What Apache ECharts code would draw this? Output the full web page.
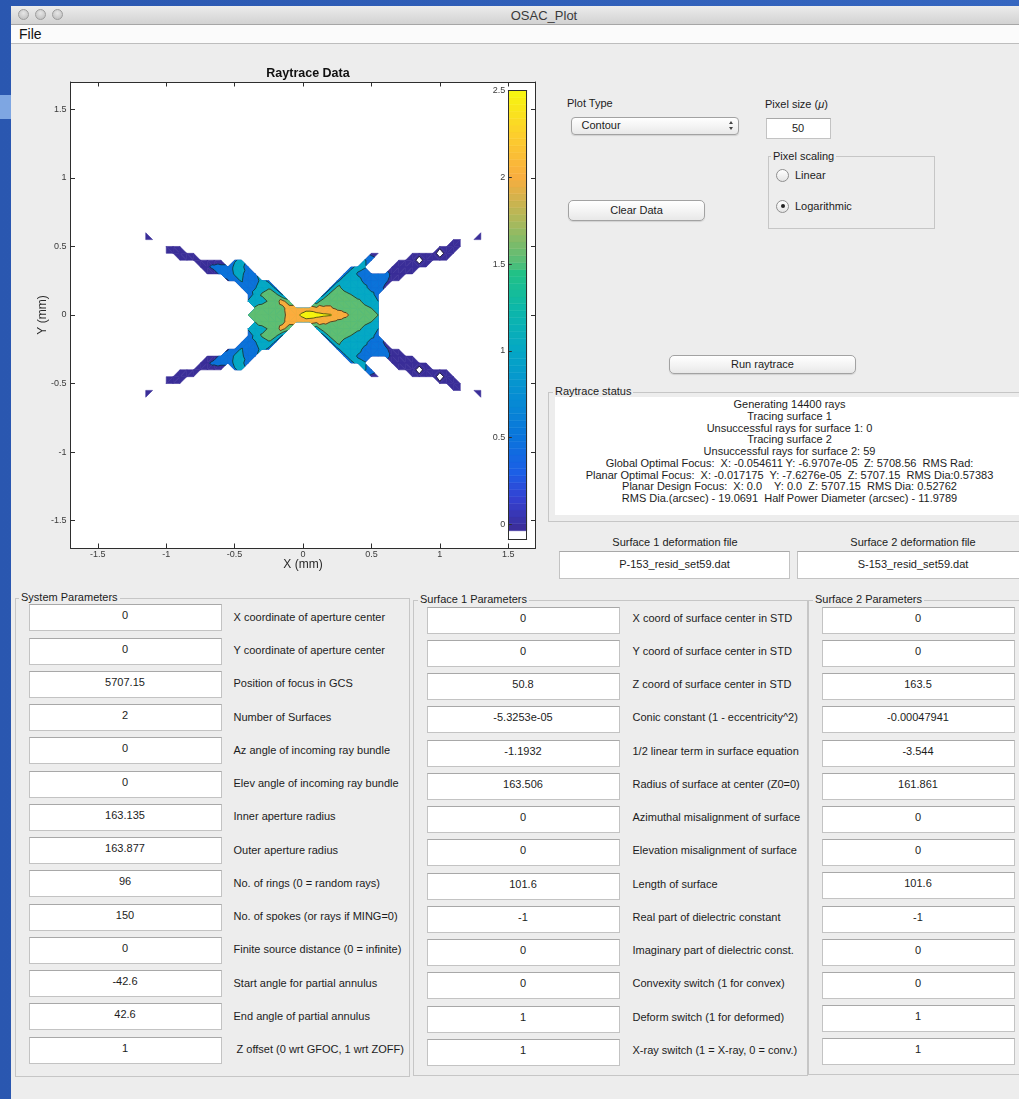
<!DOCTYPE html>
<html>
<head>
<meta charset="utf-8">
<title>OSAC_Plot</title>
<script src="https://cdn.jsdelivr.net/npm/echarts@6.0.0/dist/echarts.min.js"></script>
<style>
  html, body { margin: 0; padding: 0; }
  body {
    width: 1019px; height: 1099px; overflow: hidden; position: relative;
    background: linear-gradient(90deg, #2a57b0, #3566c0);
    font-family: "Liberation Sans", Arial, Helvetica, sans-serif; font-size: 11px; color: #1c1c1c;
  }
  .abs { position: absolute; }
  #win { position: absolute; left: 11px; top: 6px; width: 1020px; height: 1100px; background: #ededed; }
  #titlebar { position: absolute; left: 11px; top: 6px; width: 1020px; height: 18px;
    background: linear-gradient(#ececec, #d2d2d2); border-bottom: 1px solid #a6a6a6; }
  #titletext { position: absolute; left: 444px; width: 200px; top: 8px; text-align: center; font-size: 13px; line-height: 15px; color: #3a3a3a; }
  .light { position: absolute; top: 9px; width: 11px; height: 11px; border-radius: 50%;
    background: radial-gradient(circle at 50% 35%, #e6e6e6, #b9b9b9); border: 1px solid #9d9d9d; box-sizing: border-box; }
  #menubar { position: absolute; left: 11px; top: 25px; width: 1020px; height: 18px; background: #fbfbfb; border-bottom: 1px solid #bdbdbd; }
  #menufile { position: absolute; left: 19px; top: 26px; font-size: 14px; line-height: 17px; color: #111; }
  .lbl { position: absolute; font-size: 11px; line-height: 13px; white-space: pre; color: #1c1c1c; }
  .edit { position: absolute; box-sizing: border-box; background: #fff; border: 1px solid #c3c3c3; border-top-color: #a8a8a8;
    display: flex; align-items: center; justify-content: center; font-size: 11px; line-height: 13px; padding-bottom: 4px; white-space: pre; }
  .btn { position: absolute; box-sizing: border-box; border: 1px solid #a2a2a2; border-radius: 5px;
    background: linear-gradient(#ffffff, #f3f3f3 55%, #e8e8e8); box-shadow: 0 1px 1px rgba(0,0,0,0.12);
    display: flex; align-items: center; justify-content: center; font-size: 11px; line-height: 13px; }
  .panel { position: absolute; box-sizing: border-box; border: 1px solid #c6c6c6; }
  .ptitle { position: absolute; background: #ededed; padding: 0 2px; font-size: 11px; line-height: 13px; white-space: pre; }
  .radio { position: absolute; width: 13px; height: 13px; box-sizing: border-box; border-radius: 50%;
    border: 1px solid #8f8f8f; background: linear-gradient(#ffffff, #e4e4e4); }
  .dot { position: absolute; left: 3.5px; top: 3.5px; width: 4px; height: 4px; border-radius: 50%; background: #222; }
  #status { position: absolute; left: 555px; top: 397px; width: 469px; height: 118px; background: #fff; }
  #status div { text-align: center; font-size: 11px; line-height: 11.7px; white-space: pre; }
  #plot { position: absolute; left: 0; top: 44px; width: 548px; height: 546px; }
</style>
</head>
<body>
<div id="win"></div>
<div class="abs" style="left:0;top:95px;width:11px;height:24px;background:#7ea6e2;"></div>
<div id="titlebar"></div>
<div class="light" style="left:18px;"></div>
<div class="light" style="left:35px;"></div>
<div class="light" style="left:52px;"></div>
<div id="titletext">OSAC_Plot</div>
<div id="menubar"></div>
<div id="menufile">File</div>
<div id="plot"></div>
<div id="gui"></div>

<script>
// ---------------------------------------------------------------
// Focal-plane ray density: log10(ray count) per 50 micron bin.
// null marks bins that no ray reached.
// ---------------------------------------------------------------
const _ = null;

const gridX = [-1.15,-1.1,-1.05,-1.0,-0.95,-0.9,-0.85,-0.8,-0.75,-0.7,
               -0.65,-0.6,-0.55,-0.5,-0.45,-0.4,-0.35,-0.3,-0.25,-0.2,
               -0.15,-0.1,-0.05,0,0.05,0.1,0.15,0.2,0.25,0.3,
               0.35,0.4,0.45,0.5,0.55,0.6,0.65,0.7,0.75,0.8,
               0.85,0.9,0.95,1.0,1.05,1.1,1.15,1.2,1.25,1.3];

const gridY = [0.6,0.55,0.5,0.45,0.4,0.35,0.3,0.25,0.2,0.15,0.1,0.05,0,
               -0.05,-0.1,-0.15,-0.2,-0.25,-0.3,-0.35,-0.4,-0.45,-0.5,-0.55,-0.6];

// columns in blocks of ten: x = -1.15..-0.7 | -0.65..-0.2 | -0.15..0.3 | 0.35..0.8 | 0.85..1.3
const row_p060 = [0.1,_,_,_,_,_,_,_,_,_,  _,_,_,_,_,_,_,_,_,_,  _,_,_,_,_,_,_,_,_,_,  _,_,_,_,_,_,_,_,_,_,  _,_,_,_,_,_,_,_,_,0.1];
const row_p055 = [0.15,0.1,_,_,_,_,_,_,_,_,  _,_,_,_,_,_,_,_,_,_,  _,_,_,_,_,_,_,_,_,_,  _,_,_,_,_,_,_,_,_,_,  _,_,_,_,_,0.15,0.1,_,0.1,0.2];
const row_p050 = [_,_,_,0.15,0.25,0.1,_,_,_,_,  _,_,_,_,_,_,_,_,_,_,  _,_,_,_,_,_,_,_,_,_,  _,_,_,_,_,_,_,_,_,_,  _,_,_,0.2,0.35,0.3,0.15,_,_,_];
const row_p045 = [_,_,_,0.1,0.3,0.35,0.3,0.2,_,_,  _,_,_,_,_,_,_,_,_,_,  _,_,_,_,_,_,_,_,_,_,  _,_,_,0.35,0.15,_,_,_,_,0.1,  0.3,0.35,0.4,-0.4,0.3,0.15,_,_,_,_];
const row_p040 = [_,_,_,_,_,0.1,0.3,0.35,0.35,0.3,  0.25,0.1,_,0.95,1.1,_,_,_,_,_,  _,_,_,_,_,_,_,_,_,_,  _,_,1.05,0.8,_,_,_,0.1,0.3,0.4,  -0.4,0.4,0.35,0.3,0.1,_,_,_,_,_];
const row_p035 = [_,_,_,_,_,_,_,_,0.2,0.45,  0.6,0.7,0.7,1.1,1.05,0.9,_,_,_,_,  _,_,_,_,_,_,_,_,_,_,  0.85,1.15,1.05,_,_,_,0.35,0.4,0.45,0.4,  0.35,0.2,_,_,_,_,_,_,_,_];
const row_p030 = [_,_,_,_,_,_,_,_,_,0.1,  0.35,0.6,0.75,1.05,1.1,0.75,0.9,_,_,_,  _,_,_,_,_,_,_,_,_,0.85,  1.25,0.95,0.8,0.75,0.7,0.6,0.45,0.4,0.35,0.2,  _,_,_,_,_,_,_,_,_,_];
const row_p025 = [_,_,_,_,_,_,_,_,_,_,  _,_,0.45,0.8,1.05,0.7,0.75,1.2,0.85,_,  _,_,_,_,_,_,_,_,0.85,1.3,  1.3,1.15,0.9,0.8,0.85,0.6,0.35,0.15,_,_,  _,_,_,_,_,_,_,_,_,_];
const row_p020 = [_,_,_,_,_,_,_,_,_,_,  _,_,_,_,0.6,0.7,0.95,1.3,1.45,0.85,  _,_,_,_,_,_,_,0.85,1.6,1.4,  1.3,1.25,1.1,0.85,0.8,0.4,_,_,_,_,  _,_,_,_,_,_,_,_,_,_];
const row_p015 = [_,_,_,_,_,_,_,_,_,_,  _,_,_,_,_,0.6,1.2,1.55,1.7,1.65,  0.95,_,_,_,_,_,0.9,1.7,1.75,1.6,  1.5,1.3,1.25,1.1,0.85,_,_,_,_,_,  _,_,_,_,_,_,_,_,_,_];
const row_p010 = [_,_,_,_,_,_,_,_,_,_,  _,_,_,_,_,1.1,1.3,1.35,1.55,1.85,  2.15,1.7,_,_,_,1.2,1.85,1.9,1.8,1.75,  1.7,1.6,1.4,1.25,1.0,_,_,_,_,_,  _,_,_,_,_,_,_,_,_,_];
const row_p005 = [_,_,_,_,_,_,_,_,_,_,  _,_,_,_,_,_,1.55,1.7,1.75,1.8,  1.9,2.2,2.2,2.3,2.3,2.1,2.05,2.05,1.9,1.85,  1.8,1.75,1.6,1.5,1.2,_,_,_,_,_,  _,_,_,_,_,_,_,_,_,_];
const row_000  = [_,_,_,_,_,_,_,_,_,_,  _,_,_,_,_,1.5,1.7,1.75,1.8,1.8,  1.85,2.2,2.4,2.6,2.75,2.7,2.6,2.55,2.25,2.1,  1.95,1.8,1.75,1.65,1.5,_,_,_,_,_,  _,_,_,_,_,_,_,_,_,_];
const row_m005 = [_,_,_,_,_,_,_,_,_,_,  _,_,_,_,_,_,1.5,1.7,1.75,1.8,  1.9,2.2,2.2,2.3,2.25,2.1,2.05,2.0,1.9,1.85,  1.8,1.75,1.6,1.5,1.2,_,_,_,_,_,  _,_,_,_,_,_,_,_,_,_];
const row_m010 = [_,_,_,_,_,_,_,_,_,_,  _,_,_,_,_,1.1,1.3,1.35,1.55,1.85,  2.15,1.7,_,_,_,1.2,1.85,1.9,1.8,1.75,  1.7,1.6,1.4,1.25,1.0,_,_,_,_,_,  _,_,_,_,_,_,_,_,_,_];
const row_m015 = [_,_,_,_,_,_,_,_,_,_,  _,_,_,_,_,0.6,1.2,1.55,1.7,1.65,  0.95,_,_,_,_,_,0.9,1.7,1.75,1.6,  1.5,1.3,1.25,1.1,0.85,_,_,_,_,_,  _,_,_,_,_,_,_,_,_,_];
const row_m020 = [_,_,_,_,_,_,_,_,_,_,  _,_,_,_,0.6,0.7,0.95,1.3,1.45,0.85,  _,_,_,_,_,_,_,0.85,1.6,1.4,  1.3,1.25,1.1,0.85,0.8,0.4,_,_,_,_,  _,_,_,_,_,_,_,_,_,_];
const row_m025 = [_,_,_,_,_,_,_,_,_,_,  _,_,0.45,0.8,1.05,0.7,0.75,1.2,0.85,_,  _,_,_,_,_,_,_,_,0.85,1.3,  1.3,1.15,0.9,0.8,0.85,0.6,0.35,0.15,_,_,  _,_,_,_,_,_,_,_,_,_];
const row_m030 = [_,_,_,_,_,_,_,_,_,0.1,  0.35,0.6,0.75,1.05,1.1,0.75,0.9,_,_,_,  _,_,_,_,_,_,_,_,_,0.85,  1.25,0.95,0.8,0.75,0.7,0.6,0.45,0.4,0.35,0.2,  _,_,_,_,_,_,_,_,_,_];
const row_m035 = [_,_,_,_,_,_,_,_,0.2,0.45,  0.6,0.7,0.7,1.1,1.05,0.9,_,_,_,_,  _,_,_,_,_,_,_,_,_,_,  0.85,1.15,1.05,_,_,_,0.35,0.4,0.45,0.4,  0.35,0.2,_,_,_,_,_,_,_,_];
const row_m040 = [_,_,_,_,_,0.1,0.3,0.35,0.35,0.3,  0.25,0.1,_,0.95,1.1,_,_,_,_,_,  _,_,_,_,_,_,_,_,_,_,  _,_,1.05,0.8,_,_,_,0.1,0.3,0.4,  -0.4,0.4,0.35,0.3,0.1,_,_,_,_,_];
const row_m045 = [_,_,_,0.1,0.3,0.35,0.3,0.2,_,_,  _,_,_,_,_,_,_,_,_,_,  _,_,_,_,_,_,_,_,_,_,  _,_,_,0.35,0.15,_,_,_,_,0.1,  0.3,0.35,0.4,-0.4,0.3,0.15,_,_,_,_];
const row_m050 = [_,_,_,0.15,0.25,0.1,_,_,_,_,  _,_,_,_,_,_,_,_,_,_,  _,_,_,_,_,_,_,_,_,_,  _,_,_,_,_,_,_,_,_,_,  _,_,_,0.2,0.35,0.3,0.15,_,_,_];
const row_m055 = [0.15,0.1,_,_,_,_,_,_,_,_,  _,_,_,_,_,_,_,_,_,_,  _,_,_,_,_,_,_,_,_,_,  _,_,_,_,_,_,_,_,_,_,  _,_,_,_,_,0.15,0.1,_,0.1,0.2];
const row_m060 = [0.1,_,_,_,_,_,_,_,_,_,  _,_,_,_,_,_,_,_,_,_,  _,_,_,_,_,_,_,_,_,_,  _,_,_,_,_,_,_,_,_,_,  _,_,_,_,_,_,_,_,_,0.1];

const logCounts = [row_p060,row_p055,row_p050,row_p045,row_p040,row_p035,row_p030,row_p025,row_p020,
                   row_p015,row_p010,row_p005,row_000,row_m005,row_m010,row_m015,row_m020,row_m025,
                   row_m030,row_m035,row_m040,row_m045,row_m050,row_m055,row_m060];

// contour levels and axis ticks
const levels = [0, 0.5, 1.0, 1.5, 2.0, 2.5];
const axisTicks = [-1.5, -1, -0.5, 0, 0.5, 1, 1.5];
const cbarTicks = [0, 0.5, 1, 1.5, 2, 2.5];

// ---------------------------------------------------------------
// GUI text content
// ---------------------------------------------------------------
const systemLabels = ['X coordinate of aperture center','Y coordinate of aperture center','Position of focus in GCS',
  'Number of Surfaces','Az angle of incoming ray bundle','Elev angle of incoming ray bundle','Inner aperture radius',
  'Outer aperture radius','No. of rings (0 = random rays)','No. of spokes (or rays if MING=0)',
  'Finite source distance (0 = infinite)','Start angle for partial annulus','End angle of partial annulus',
  ' Z offset (0 wrt GFOC, 1 wrt ZOFF)'];
const systemValues = ['0','0','5707.15','2','0','0','163.135','163.877','96','150','0','-42.6','42.6','1'];
const surfaceLabels = ['X coord of surface center in STD','Y coord of surface center in STD','Z coord of surface center in STD',
  'Conic constant (1 - eccentricity^2)','1/2 linear term in surface equation','Radius of surface at center (Z0=0)',
  'Azimuthal misalignment of surface','Elevation misalignment of surface','Length of surface',
  'Real part of dielectric constant','Imaginary part of dielectric const.','Convexity switch (1 for convex)',
  'Deform switch (1 for deformed)','X-ray switch (1 = X-ray, 0 = conv.)'];
const surface1Values = ['0','0','50.8','-5.3253e-05','-1.1932','163.506','0','0','101.6','-1','0','0','1','1'];
const surface2Values = ['0','0','163.5','-0.00047941','-3.544','161.861','0','0','101.6','-1','0','0','1','1'];
const statusLines = [
  'Generating 14400 rays',
  'Tracing surface 1',
  'Unsuccessful rays for surface 1: 0',
  'Tracing surface 2',
  'Unsuccessful rays for surface 2: 59',
  'Global Optimal Focus:  X: -0.054611 Y: -6.9707e-05  Z: 5708.56  RMS Rad:',
  'Planar Optimal Focus:  X: -0.017175  Y: -7.6276e-05  Z: 5707.15  RMS Dia:0.57383',
  'Planar Design Focus:  X: 0.0    Y: 0.0  Z: 5707.15  RMS Dia: 0.52762',
  'RMS Dia.(arcsec) - 19.0691  Half Power Diameter (arcsec) - 11.9789'
];
const deformFiles = ['P-153_resid_set59.dat', 'S-153_resid_set59.dat'];

// ---------------------------------------------------------------
// colours
// ---------------------------------------------------------------
const levelColors = ['#3a2e98', '#0b73da', '#05a9c4', '#5fbe72', '#fbad3d', '#f5f40e'];
const cmapStops = [
  [-0.037, '#3c2c96'], [0.15, '#3441d2'], [0.3, '#1c5fe6'], [0.5, '#0a74dc'], [0.75, '#068fd2'],
  [1.0, '#05a7c5'], [1.25, '#0db8a8'], [1.45, '#22c186'], [1.5, '#52bd78'], [1.75, '#acb95b'],
  [2.0, '#f8ad3f'], [2.25, '#fdcf2c'], [2.5, '#f6f70f']
];
const cbarMin = -0.0865, cbarColorStart = -0.037, cbarMax = 2.5, cbarSteps = 64;

function hexToRgb(h) { return [1, 3, 5].map(i => parseInt(h.substr(i, 2), 16)); }
function cmap(v) {
  if (v <= cmapStops[0][0]) return cmapStops[0][1];
  for (let i = 1; i < cmapStops.length; i++) {
    if (v <= cmapStops[i][0]) {
      const [v0, c0] = cmapStops[i - 1], [v1, c1] = cmapStops[i];
      const t = (v - v0) / (v1 - v0), a = hexToRgb(c0), b = hexToRgb(c1);
      return 'rgb(' + a.map((x, k) => Math.round(x + t * (b[k] - x))).join(',') + ')';
    }
  }
  return cmapStops[cmapStops.length - 1][1];
}

// ---------------------------------------------------------------
// filled contours: triangulate the valid bins, clip each triangle
// against every level, and collect the iso-segments
// ---------------------------------------------------------------
function buildTriangles() {
  const tris = [];
  const node = (c, r) => {
    const v = logCounts[r][c];
    return v === null ? null : { p: [gridX[c], gridY[r]], v: v };
  };
  for (let r = 0; r < gridY.length - 1; r++) {
    for (let c = 0; c < gridX.length - 1; c++) {
      const tl = node(c, r), tr = node(c + 1, r), br = node(c + 1, r + 1), bl = node(c, r + 1);
      const ok = [tl, tr, br, bl].filter(n => n);
      if (ok.length === 4) {
        if (tl.v + br.v >= tr.v + bl.v) tris.push([tl, tr, br], [tl, br, bl]);
        else tris.push([tl, tr, bl], [tr, br, bl]);
      } else if (ok.length === 3) {
        tris.push(ok);
      }
    }
  }
  return tris;
}
function clipTri(tri, L) {
  const out = [];
  for (let k = 0; k < 3; k++) {
    const a = tri[k], b = tri[(k + 1) % 3];
    const ina = a.v >= L, inb = b.v >= L;
    if (ina) out.push(a.p);
    if (ina !== inb) {
      const t = (L - a.v) / (b.v - a.v);
      out.push([a.p[0] + t * (b.p[0] - a.p[0]), a.p[1] + t * (b.p[1] - a.p[1])]);
    }
  }
  return out;
}
function isoSeg(tri, L) {
  const pts = [];
  for (let k = 0; k < 3; k++) {
    const a = tri[k], b = tri[(k + 1) % 3];
    if ((a.v >= L) !== (b.v >= L)) {
      const t = (L - a.v) / (b.v - a.v);
      pts.push([a.p[0] + t * (b.p[0] - a.p[0]), a.p[1] + t * (b.p[1] - a.p[1])]);
    }
  }
  return pts.length === 2 ? pts : null;
}

const triangles = buildTriangles();
const fillPolys = levels.map(L => triangles.map(t => clipTri(t, L)).filter(p => p.length >= 3));
const isoLines = levels.map(L => triangles.map(t => isoSeg(t, L)).filter(s => s));

const cbarBands = [];
for (let i = 0; i < cbarSteps; i++) {
  const lo = cbarColorStart + (cbarMax - cbarColorStart) * i / cbarSteps;
  const hi = cbarColorStart + (cbarMax - cbarColorStart) * (i + 1) / cbarSteps;
  cbarBands.push([0, lo, hi]);
}

// ---------------------------------------------------------------
// chart
// ---------------------------------------------------------------
const FONT = '"Liberation Sans", Arial, Helvetica, sans-serif';
const AXC = '#2e2e2e';
const chart = echarts.init(document.getElementById('plot'), null, { renderer: 'canvas' });

function mainAxis(pos, withLabels, extra) {
  return Object.assign({
    type: 'value', gridIndex: 0, position: pos, min: -1.7, max: 1.7,
    axisLine: { show: true, onZero: false, lineStyle: { color: AXC, width: 1 } },
    axisTick: { show: true, inside: true, length: 4.5, customValues: axisTicks, lineStyle: { color: AXC, width: 1 } },
    axisLabel: { show: withLabels, customValues: axisTicks, fontSize: 9, color: '#3a3a3a', fontFamily: FONT },
    splitLine: { show: false }
  }, extra || {});
}
function cbarAxis(kind, pos, extra) {
  const base = {
    type: 'value', gridIndex: 1, position: pos, z: 10,
    axisLine: { show: true, onZero: false, lineStyle: { color: AXC, width: 1 } },
    axisTick: { show: false }, axisLabel: { show: false }, splitLine: { show: false }
  };
  if (kind === 'x') Object.assign(base, { min: 0, max: 1 });
  else Object.assign(base, { min: cbarMin, max: cbarMax });
  return Object.assign(base, extra || {});
}

chart.setOption({
  animation: false,
  backgroundColor: 'transparent',
  textStyle: { fontFamily: FONT },
  title: {
    text: 'Raytrace Data', left: 303, top: 18, textAlign: 'center',
    textStyle: { fontSize: 12.5, fontWeight: 'bold', color: '#111', fontFamily: FONT }
  },
  grid: [
    { left: 70.5, top: 38, width: 465, height: 466, show: true, backgroundColor: '#ffffff', borderWidth: 0 },
    { left: 508.3, top: 46.7, width: 18.4, height: 448.6, show: true, backgroundColor: '#ffffff', borderWidth: 0 }
  ],
  xAxis: [
    mainAxis('bottom', true, {
      name: 'X (mm)', nameLocation: 'middle', nameGap: 10.5, nameMoveOverlap: false,
      nameTextStyle: { fontSize: 12, color: '#2a2a2a', fontFamily: FONT },
      axisLabel: { show: true, customValues: axisTicks, fontSize: 9, color: '#3a3a3a', margin: 2, fontFamily: FONT }
    }),
    mainAxis('top', false),
    cbarAxis('x', 'bottom'),
    cbarAxis('x', 'top')
  ],
  yAxis: [
    mainAxis('left', true, {
      name: 'Y (mm)', nameLocation: 'middle', nameGap: 22, nameRotate: 90, nameMoveOverlap: false,
      nameTextStyle: { fontSize: 12, color: '#2a2a2a', fontFamily: FONT },
      axisLabel: { show: true, customValues: axisTicks, fontSize: 9, color: '#3a3a3a', margin: 4, fontFamily: FONT }
    }),
    mainAxis('right', false),
    cbarAxis('y', 'left', {
      axisTick: { show: true, inside: true, length: 3.5, customValues: cbarTicks, lineStyle: { color: AXC } },
      axisLabel: { show: true, customValues: cbarTicks, fontSize: 9, color: '#3a3a3a', margin: 3, fontFamily: FONT }
    }),
    cbarAxis('y', 'right')
  ],
  series: [
    {
      // filled bands, lowest level first
      type: 'custom', xAxisIndex: 0, yAxisIndex: 0, clip: true, silent: true, z: 2,
      data: levels.map((L, k) => [0, L, k]),
      encode: { x: 0, y: 1 },
      renderItem: function (params, api) {
        const k = params.dataIndex, col = levelColors[k];
        return {
          type: 'group',
          children: fillPolys[k].map(poly => ({
            type: 'polygon',
            shape: { points: poly.map(p => api.coord(p)) },
            style: { fill: col, stroke: col, lineWidth: 0.6 }
          }))
        };
      }
    },
    {
      // iso-lines on top of the fills
      type: 'custom', xAxisIndex: 0, yAxisIndex: 0, clip: true, silent: true, z: 3,
      data: levels.map((L, k) => [0, L, k]),
      encode: { x: 0, y: 1 },
      renderItem: function (params, api) {
        const k = params.dataIndex;
        return {
          type: 'group',
          children: isoLines[k].map(seg => {
            const a = api.coord(seg[0]), b = api.coord(seg[1]);
            return {
              type: 'line',
              shape: { x1: a[0], y1: a[1], x2: b[0], y2: b[1] },
              style: { stroke: '#151515', lineWidth: 0.7 }
            };
          })
        };
      }
    },
    {
      // colour bar
      type: 'custom', xAxisIndex: 2, yAxisIndex: 2, clip: true, silent: true, z: 2,
      data: cbarBands,
      encode: { x: 0, y: [1, 2] },
      renderItem: function (params, api) {
        const lo = api.value(1), hi = api.value(2);
        const p1 = api.coord([0, hi]), p2 = api.coord([1, lo]);
        const col = cmap((lo + hi) / 2);
        return {
          type: 'rect',
          shape: { x: p1[0], y: p1[1], width: p2[0] - p1[0], height: p2[1] - p1[1] },
          style: { fill: col, stroke: col, lineWidth: 0.5 }
        };
      }
    }
  ]
});

// ---------------------------------------------------------------
// GUI controls
// ---------------------------------------------------------------
const gui = document.getElementById('gui');
function el(cls, css, text, parent) {
  const d = document.createElement('div');
  d.className = cls;
  d.style.cssText = css;
  if (text !== undefined) d.textContent = text;
  (parent || gui).appendChild(d);
  return d;
}
function label(x, cy, text) { return el('lbl', 'left:' + x + 'px;top:' + (cy - 6.5) + 'px;', text); }

// plot type
label(567, 103, 'Plot Type');
const pop = el('btn', 'left:570.5px;top:116.5px;width:168px;height:18px;justify-content:flex-start;padding-left:10px;border-radius:4px;', 'Contour');
el('abs', 'left:157px;top:3px;width:0;height:0;border-left:2.5px solid transparent;border-right:2.5px solid transparent;border-bottom:3.5px solid #444;', undefined, pop);
el('abs', 'left:157px;top:9px;width:0;height:0;border-left:2.5px solid transparent;border-right:2.5px solid transparent;border-top:3.5px solid #444;', undefined, pop);

// pixel size
const ps = label(765, 104, '');
ps.innerHTML = 'Pixel size (<i>\u03bc</i>)';
el('edit', 'left:765.5px;top:118px;width:65px;height:21px;padding-bottom:0;', '50');

// pixel scaling
el('panel', 'left:767.5px;top:156px;width:167px;height:73px;');
el('ptitle', 'left:771px;top:149.5px;', 'Pixel scaling');
el('radio', 'left:776px;top:169px;');
label(795, 175.5, 'Linear');
const r2 = el('radio', 'left:776px;top:199.5px;');
el('dot', '', undefined, r2);
label(795, 206, 'Logarithmic');

// buttons
el('btn', 'left:568px;top:199.5px;width:137px;height:21px;', 'Clear Data');
el('btn', 'left:669px;top:354.5px;width:187px;height:19px;', 'Run raytrace');

// raytrace status
el('panel', 'left:548px;top:391.5px;width:500px;height:130.5px;');
el('ptitle', 'left:553px;top:385px;', 'Raytrace status');
const st = el('', '', undefined);
st.id = 'status';
st.style.paddingTop = '2.3px';
st.style.boxSizing = 'border-box';
statusLines.forEach(s => el('', '', s, st));

// deformation files
el('lbl', 'left:560px;width:230px;text-align:center;top:535.5px;', 'Surface 1 deformation file');
el('lbl', 'left:797px;width:232px;text-align:center;top:535.5px;', 'Surface 2 deformation file');
el('edit', 'left:559px;top:551px;width:231px;height:28px;padding-bottom:2px;', deformFiles[0]);
el('edit', 'left:797px;top:551px;width:232px;height:28px;padding-bottom:2px;', deformFiles[1]);

// parameter panels
el('panel', 'left:15px;top:598px;width:395px;height:479px;');
el('ptitle', 'left:19px;top:591px;', 'System Parameters');
el('panel', 'left:412.5px;top:600px;width:395px;height:476px;');
el('ptitle', 'left:418px;top:593px;', 'Surface 1 Parameters');
el('panel', 'left:807.5px;top:600px;width:230px;height:475px;');
el('ptitle', 'left:813px;top:593px;', 'Surface 2 Parameters');

systemValues.forEach((v, k) => {
  const top = 604.3 + 33.26 * k;
  el('edit', 'left:28.5px;top:' + top + 'px;width:193px;height:27px;', v);
  label(233.5, top + 13, systemLabels[k]);
});
surface1Values.forEach((v, k) => {
  const top = 606.7 + 33.25 * k;
  el('edit', 'left:426.5px;top:' + top + 'px;width:193px;height:27px;', v);
  label(632.5, top + 11.5, surfaceLabels[k]);
});
surface2Values.forEach((v, k) => {
  const top = 606.7 + 33.2 * k;
  el('edit', 'left:821.5px;top:' + top + 'px;width:193px;height:27px;', v);
});
</script>
</body>
</html>
